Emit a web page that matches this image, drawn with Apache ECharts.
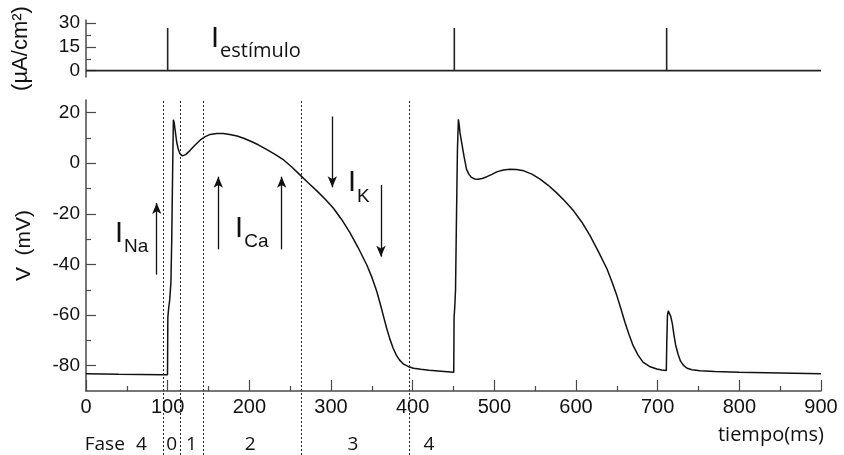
<!DOCTYPE html>
<html>
<head>
<meta charset="utf-8">
<script src="https://cdn.jsdelivr.net/npm/echarts@6/dist/echarts.min.js"></script>
<style>html,body{margin:0;padding:0;background:#fff}#chart{width:844px;height:455px}#err{position:absolute;left:0;top:0;font:11px monospace;white-space:pre-wrap;width:840px;color:red}</style>
</head>
<body>
<div id="chart"></div>
<div id="err"></div>
<script>
// ---- data ----
const timeMs = [0,40,95,99.8,100.2,101,102.5,104,105,106,107,108,109,111,113,115,118,122,127,133,140,146,152,160,168,176,185,193,201,211,221,231,242,252,262,272,283,293,303,313,323,333,344,350,356,360,364,368,372,376,380,384,389,395,401,410,420,435,450.3,450.7,451.5,452.5,453.5,454.8,456,457,458,460,463,466,469,472,476,480,485,491,497,503,511,519,527,536,546,556,566,576,586,597,607,617,627,638,644,650,655,660,665,670,676,682,690,699,705,710.6,711.2,712,713,714,716,718,720,722,725,728,732,736,742,752,770,800,850,900];
const voltageMv = [-83.2,-83.4,-83.6,-83.6,-61,-58,-54,-47,-30,-5,17.2,16,13.5,8.5,5.5,3.8,2.9,3.4,4.9,7,9.2,10.5,11.4,11.8,11.8,11.4,10.8,9.9,8.8,7.3,5.5,3.6,1.3,-1.5,-4.6,-7.7,-11,-14.2,-17.8,-22.2,-27.3,-33.2,-40.3,-45,-50.6,-55.2,-60.1,-65,-69.4,-73,-75.8,-77.8,-79.4,-80.4,-81,-81.4,-81.8,-82.2,-82.6,-61,-57,-50,-25,5,17.4,15,12,8.2,2.5,-2.4,-4.4,-5.6,-6.2,-6.3,-6,-5.3,-4.4,-3.4,-2.7,-2.4,-2.5,-3,-4.3,-6.3,-8.7,-11.6,-14.8,-18.8,-23.2,-28.5,-34.6,-41.8,-46.8,-52.3,-57.5,-62.9,-67.8,-72.1,-75.8,-78.6,-80.3,-81.3,-81.7,-81.9,-70,-60,-58.3,-58.5,-60.5,-63.5,-68,-71.8,-75.5,-78.2,-80,-81,-81.6,-82,-82.3,-82.6,-82.9,-83.2];

const stimTimes = [100, 451, 711];
const stimAmplitude = 27;
const stimMajorTicks = [0, 15, 30];
const stimMinorTicks = [7.5, 22.5];

const vMajorTicks = [-80, -60, -40, -20, 0, 20];
const vMinorTicks = [-70, -50, -30, -10, 10];

const phaseBoundaries = [94, 116, 144, 263, 396];
const phaseNames = ['Fase', '4', '0', '1', '2', '3', '4'];
const phaseNameTimes = [23, 68, 105, 129, 201, 327, 420];

const arrowTimes = [86.6, 162, 239.6, 301.6, 361.2];
const arrowFrom = [-44, -34, -34, 18.5, -8.6];
const arrowTo = [-15.7, -5.3, -5.3, -9.5, -36.9];

const currentSubs = ['Na', 'Ca', 'K'];
const currentLabelTimes = [56, 203, 334];
const currentLabelV = [-29.5, -27.5, -9.5];
const stimLabelPos = [208, 17.5];

// ---- build ----
const voltageData = timeMs.map((t, i) => [t, voltageMv[i]]);
const stimData = [[0, 0]];
stimTimes.forEach(t => { stimData.push([t, 0], [t, stimAmplitude], [t, 0]); });
stimData.push([900, 0]);

const AX = '#4a4a4a';
const TXT = '#111';
const SANS = '"Liberation Sans", Arial, sans-serif';
const ROUND = '"Open Sans", "Noto Sans", sans-serif';

const richI = {
  m: { fontSize: 29, fontFamily: SANS, color: TXT, verticalAlign: 'bottom', padding: [0, 1, 8, 0], textBorderWidth: 0 },
  s: { fontSize: 19, fontFamily: SANS, color: TXT, verticalAlign: 'bottom', textBorderWidth: 0 }
};

try {
const chart = echarts.init(document.getElementById('chart'), null, { renderer: 'canvas' });
chart.setOption({
  animation: false,
  backgroundColor: '#fff',
  grid: [
    { left: 86, right: 23, top: 20, height: 57 },
    { left: 86, right: 23, top: 100, height: 291 },
    { left: 86, right: 23, top: 101, bottom: 0 }
  ],
  xAxis: [
    { gridIndex: 0, type: 'value', min: 0, max: 900, show: false },
    { gridIndex: 1, type: 'value', min: 0, max: 900, interval: 100,
      name: 'tiempo(ms)', nameLocation: 'end', nameGap: 3,
      nameTextStyle: { fontFamily: ROUND, fontSize: 20, color: TXT, align: 'right', verticalAlign: 'top', padding: [34, 0, 0, 0] },
      axisLine: { onZero: false, lineStyle: { color: AX, width: 1.5 } },
      axisTick: { inside: true, length: 11, lineStyle: { color: AX, width: 1.2 } },
      minorTick: { show: true, splitNumber: 2, length: 5, lineStyle: { color: AX, width: 1.2 } },
      axisLabel: { fontFamily: SANS, fontSize: 20, color: TXT, margin: 6 },
      splitLine: { show: false } },
    { gridIndex: 2, type: 'value', min: 0, max: 900, show: false }
  ],
  yAxis: [
    { gridIndex: 0, type: 'value', min: -4, max: 32, position: 'left',
      name: '(µA/cm²)', nameLocation: 'middle', nameGap: 54,
      nameTextStyle: { fontFamily: SANS, fontSize: 22, color: TXT },
      axisLine: { show: true, lineStyle: { color: AX, width: 1.5 } },
      axisTick: { inside: true, length: 10, customValues: stimMajorTicks, lineStyle: { color: AX, width: 1.2 } },
      axisLabel: { customValues: stimMajorTicks, fontFamily: SANS, fontSize: 19, color: TXT, margin: 6 },
      splitLine: { show: false } },
    { gridIndex: 0, type: 'value', min: -4, max: 32, position: 'left',
      axisLine: { show: false },
      axisTick: { show: true, inside: true, length: 5, customValues: stimMinorTicks, lineStyle: { color: AX, width: 1.2 } },
      axisLabel: { show: false }, splitLine: { show: false } },
    { gridIndex: 1, type: 'value', min: -90, max: 25, position: 'left',
      name: 'V  (mV)', nameLocation: 'middle', nameGap: 51,
      nameTextStyle: { fontFamily: SANS, fontSize: 21, color: TXT },
      axisLine: { show: true, lineStyle: { color: AX, width: 1.5 } },
      axisTick: { inside: true, length: 10, customValues: vMajorTicks, lineStyle: { color: AX, width: 1.2 } },
      axisLabel: { customValues: vMajorTicks, fontFamily: SANS, fontSize: 19, color: TXT, margin: 6 },
      splitLine: { show: false } },
    { gridIndex: 1, type: 'value', min: -90, max: 25, position: 'left',
      axisLine: { show: false },
      axisTick: { show: true, inside: true, length: 5, customValues: vMinorTicks, lineStyle: { color: AX, width: 1.2 } },
      axisLabel: { show: false }, splitLine: { show: false } },
    { gridIndex: 2, type: 'value', min: 0, max: 1, show: false }
  ],
  series: [
    { type: 'line', xAxisIndex: 0, yAxisIndex: 0, data: stimData, showSymbol: false, silent: true,
      lineStyle: { color: '#222', width: 1.6 } },
    { type: 'line', xAxisIndex: 1, yAxisIndex: 2, data: voltageData, showSymbol: false, silent: true,
      lineStyle: { color: '#111', width: 1.5 } },
    { type: 'scatter', xAxisIndex: 2, yAxisIndex: 4, symbolSize: 0, silent: true,
      itemStyle: { opacity: 1, color: TXT },
      data: phaseNames.map((n, i) => ({ value: [phaseNameTimes[i], 0.028], name: n })),
      label: { show: true, position: 'inside', formatter: p => p.data.name,
        fontFamily: ROUND, fontSize: 19, color: TXT, textBorderWidth: 0 },
      markLine: { silent: true, symbol: ['none', 'none'], label: { show: false },
        lineStyle: { color: '#222', width: 1, type: [2, 2] },
        data: phaseBoundaries.map(t => ({ xAxis: t })) } },
    { type: 'scatter', xAxisIndex: 1, yAxisIndex: 2, symbolSize: 0, silent: true,
      itemStyle: { opacity: 1, color: TXT },
      data: currentSubs.map((s, i) => ({ value: [currentLabelTimes[i], currentLabelV[i]], sub: s })),
      label: { show: true, position: 'inside', formatter: p => '{m|I}{s|' + p.data.sub + '}', rich: richI, textBorderWidth: 0 },
      markLine: { silent: true, symbol: ['none', 'arrow'], symbolSize: [7, 11],
        label: { show: false },
        lineStyle: { color: '#111', width: 1.3, type: 'solid' },
        data: arrowTimes.map((t, i) => [{ coord: [t, arrowFrom[i]] }, { coord: [t, arrowTo[i]] }]) } },
    { type: 'scatter', xAxisIndex: 0, yAxisIndex: 0, symbolSize: 0, silent: true,
      itemStyle: { opacity: 1, color: TXT },
      data: [{ value: stimLabelPos }],
      label: { show: true, position: 'inside', formatter: '{m|I}{s|estímulo}', textBorderWidth: 0,
        rich: { m: richI.m, s: Object.assign({}, richI.s, { fontFamily: ROUND, fontSize: 20 }) } } }
  ]
});
} catch (e) { document.getElementById('err').textContent = e.stack; }
</script>
</body>
</html>
